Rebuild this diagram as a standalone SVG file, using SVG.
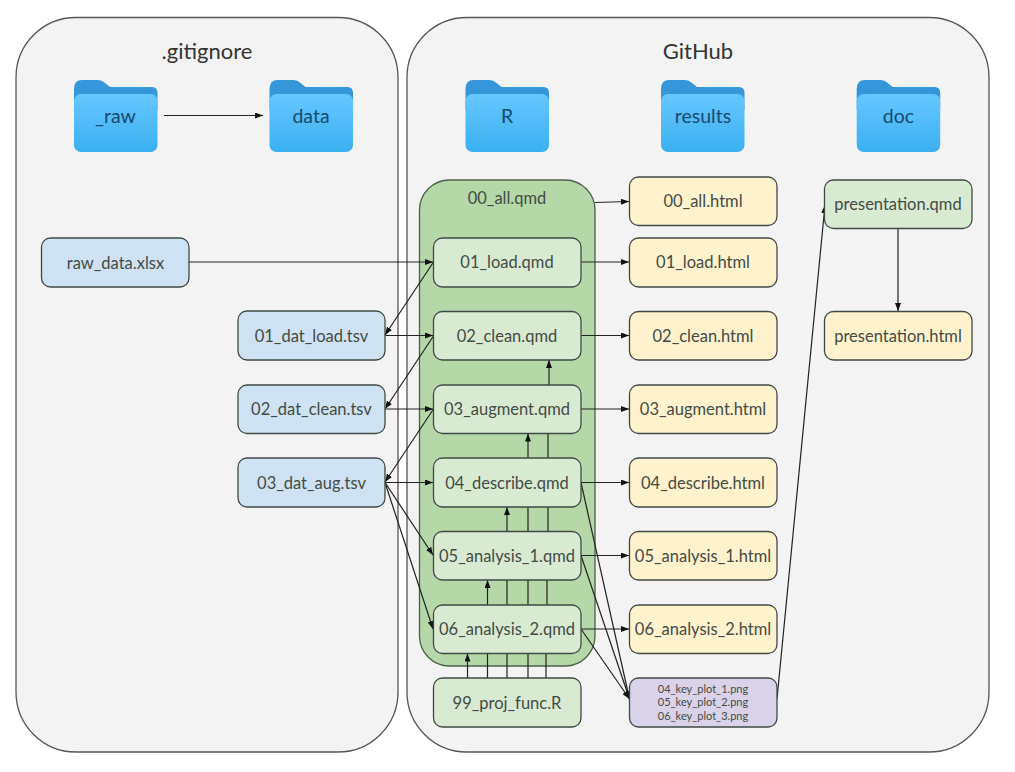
<svg xmlns="http://www.w3.org/2000/svg" width="1015" height="772" viewBox="0 0 1015 772">
<style>
text{font-family:Lato,"Open Sans",sans-serif;text-anchor:middle;fill:#434c44}
.panel{fill:#f3f3f3;stroke:#555;stroke-width:1.3}
.title{font-size:22px;fill:#333}
.ft{font-size:19.500px;fill:#174a70}
.n{font-size:16.500px}
.box{stroke:#3f4a44;stroke-width:1.3}
.raw{fill:#cfe2f3}.q{fill:#d9ead3}.h{fill:#fff2cc}.p{fill:#d9d2e9}
.c{fill:none;stroke:#222;stroke-width:1.2}
.a{marker-end:url(#ah)}
</style>
<defs>
<marker id="ah" viewBox="0 0 8 6" refX="8" refY="3" markerWidth="8" markerHeight="6" orient="auto" markerUnits="userSpaceOnUse"><path d="M0 0L8 3L0 6Z" fill="#111"/></marker>
<linearGradient id="fg" x1="0" y1="0" x2="0" y2="1"><stop offset="0" stop-color="#66c7ff"/><stop offset="1" stop-color="#3bb0f0"/></linearGradient>
<g id="folder">
<path d="M0 9Q0 0 8 0H24Q28 0 31 3L36 7H78Q83.500 7 83.500 13V30H0Z" fill="#3597d9"/>
<rect x="0" y="14" width="83.500" height="58" rx="7" fill="url(#fg)"/>
</g>
</defs>
<rect width="1015" height="772" fill="#fff"/>
<g id="panel-gitignore"><rect class="panel" x="16" y="17.500" width="382" height="734.500" rx="60"/><text class="title" x="207" y="59">.gitignore</text></g>
<g id="panel-github"><rect class="panel" x="407" y="17.500" width="582" height="734.500" rx="60"/><text class="title" x="698" y="59">GitHub</text></g>
<g id="folder-raw"><use href="#folder" x="74" y="80"/><text class="ft" x="115.500" y="123">_raw</text></g>
<g id="folder-data"><use href="#folder" x="269.500" y="80"/><text class="ft" x="311" y="123">data</text></g>
<g id="folder-R"><use href="#folder" x="465.500" y="80"/><text class="ft" x="507" y="123">R</text></g>
<g id="folder-results"><use href="#folder" x="661" y="80"/><text class="ft" x="703" y="123">results</text></g>
<g id="folder-doc"><use href="#folder" x="856.700" y="80"/><text class="ft" x="898.500" y="123">doc</text></g>
<g id="node-all"><rect x="419.500" y="180" width="175.500" height="486" rx="30" fill="#b6d7a8" stroke="#4d5f4b" stroke-width="1.3"/><text class="n" x="507" y="204">00_all.qmd</text></g>
<g id="connectors">
<path class="c a" d="M164 115.500H263"/>
<path class="c a" d="M189 262H433"/>
<path class="c a" d="M433.500 262L385 335"/>
<path class="c a" d="M385 335.500H433"/>
<path class="c a" d="M433.500 336L385 409"/>
<path class="c a" d="M385 409H433"/>
<path class="c a" d="M433.500 409L385 482"/>
<path class="c a" d="M385 482.500H433"/>
<path class="c a" d="M385 482.500L433 555"/>
<path class="c a" d="M385 482.500L433 629"/>
<path class="c a" d="M595 202.500L629 201.500"/>
<path class="c a" d="M581 262H629"/>
<path class="c a" d="M581 335.500H629"/>
<path class="c a" d="M581 409H629"/>
<path class="c a" d="M581 482.500H629"/>
<path class="c a" d="M581 555.500H629"/>
<path class="c a" d="M581 629H629"/>
<path class="c a" d="M581 482.500L629.500 699"/>
<path class="c a" d="M581 555.500L629.500 699"/>
<path class="c a" d="M581 629L629.500 699"/>
<path class="c a" d="M777 699L825 205"/>
<path class="c a" d="M898 228.500V311"/>
<path class="c a" d="M549 385V360"/>
<path class="c a" d="M528 458V433.500"/>
<path class="c a" d="M507 531.500V507"/>
<path class="c a" d="M487.500 605V580"/>
<path class="c a" d="M467.500 678V653.500"/>
<path class="c" d="M528 507V531.500M528 580V605M528 653.500V678M548 433.500V458M548 507V531.500M547 580V605M546 653.500V678M507 580V605M507 653.500V678M487.500 653.500V678"/>
</g>
<g id="node-raw-xlsx"><rect class="box raw" x="41.500" y="238" width="147.500" height="49" rx="9"/><text class="n" x="115.500" y="269">raw_data.xlsx</text></g>
<g id="node-dat-load"><rect class="box raw" x="238" y="311" width="147" height="49" rx="9"/><text class="n" x="311.500" y="342">01_dat_load.tsv</text></g>
<g id="node-dat-clean"><rect class="box raw" x="238" y="385" width="147" height="48.500" rx="9"/><text class="n" x="311.500" y="415">02_dat_clean.tsv</text></g>
<g id="node-dat-aug"><rect class="box raw" x="238" y="458" width="147" height="49" rx="9"/><text class="n" x="311.500" y="489">03_dat_aug.tsv</text></g>
<g id="node-load"><rect class="box q" x="433.500" y="238" width="147.500" height="49" rx="9"/><text class="n" x="507" y="268">01_load.qmd</text></g>
<g id="node-clean"><rect class="box q" x="433.500" y="311.500" width="147.500" height="48.500" rx="9"/><text class="n" x="507" y="342">02_clean.qmd</text></g>
<g id="node-augment"><rect class="box q" x="433.500" y="385" width="147.500" height="48.500" rx="9"/><text class="n" x="507" y="415">03_augment.qmd</text></g>
<g id="node-describe"><rect class="box q" x="433.500" y="458" width="147.500" height="49" rx="9"/><text class="n" x="507" y="489">04_describe.qmd</text></g>
<g id="node-analysis1"><rect class="box q" x="433.500" y="531.500" width="147.500" height="48.500" rx="9"/><text class="n" x="507" y="562">05_analysis_1.qmd</text></g>
<g id="node-analysis2"><rect class="box q" x="433.500" y="605" width="147.500" height="48.500" rx="9"/><text class="n" x="507" y="635">06_analysis_2.qmd</text></g>
<g id="node-func"><rect class="box q" x="433.500" y="678" width="147.500" height="49" rx="9"/><text class="n" x="507" y="709">99_proj_func.R</text></g>
<g id="node-h00"><rect class="box h" x="629.500" y="177" width="147.500" height="48.500" rx="9"/><text class="n" x="703" y="207">00_all.html</text></g>
<g id="node-h01"><rect class="box h" x="629.500" y="238" width="147.500" height="49" rx="9"/><text class="n" x="703" y="268">01_load.html</text></g>
<g id="node-h02"><rect class="box h" x="629.500" y="311.500" width="147.500" height="48.500" rx="9"/><text class="n" x="703" y="342">02_clean.html</text></g>
<g id="node-h03"><rect class="box h" x="629.500" y="385" width="147.500" height="48.500" rx="9"/><text class="n" x="703" y="415">03_augment.html</text></g>
<g id="node-h04"><rect class="box h" x="629.500" y="458" width="147.500" height="49" rx="9"/><text class="n" x="703" y="489">04_describe.html</text></g>
<g id="node-h05"><rect class="box h" x="629.500" y="531.500" width="147.500" height="48.500" rx="9"/><text class="n" x="703" y="562">05_analysis_1.html</text></g>
<g id="node-h06"><rect class="box h" x="629.500" y="605" width="147.500" height="48.500" rx="9"/><text class="n" x="703" y="635">06_analysis_2.html</text></g>
<g id="node-plots"><rect class="box p" x="629.500" y="678" width="147.500" height="49" rx="9"/><text x="703" y="693" font-size="11">04_key_plot_1.png</text><text x="703" y="706" font-size="11">05_key_plot_2.png</text><text x="703" y="720" font-size="11">06_key_plot_3.png</text></g>
<g id="node-pres"><rect class="box q" x="824.500" y="180" width="147.500" height="48.500" rx="9"/><text class="n" x="898" y="210">presentation.qmd</text></g>
<g id="node-pres-html"><rect class="box h" x="824.500" y="311.500" width="147.500" height="48.500" rx="9"/><text class="n" x="898" y="342">presentation.html</text></g>
</svg>
